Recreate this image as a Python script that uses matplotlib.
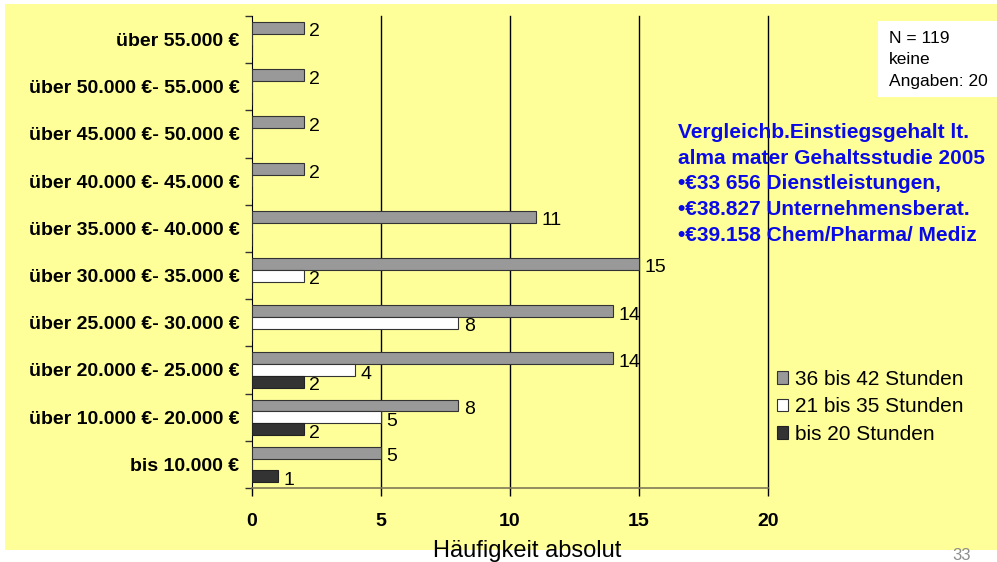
import numpy as np
import matplotlib
matplotlib.use("Agg")
from matplotlib import pyplot as plt
from matplotlib.patches import Rectangle

plt.rcParams['font.family'] = ['Liberation Sans', 'DejaVu Sans']

categories = ["bis 10.000 €", "über 10.000 €- 20.000 €", "über 20.000 €- 25.000 €",
              "über 25.000 €- 30.000 €", "über 30.000 €- 35.000 €", "über 35.000 €- 40.000 €",
              "über 40.000 €- 45.000 €", "über 45.000 €- 50.000 €", "über 50.000 €- 55.000 €",
              "über 55.000 €"]
h36_42 = [5, 8, 14, 14, 15, 11, 2, 2, 2, 2]
h21_35 = [0, 5, 4, 8, 2, 0, 0, 0, 0, 0]
h_bis20 = [1, 2, 2, 0, 0, 0, 0, 0, 0, 0]
series_names = ["36 bis 42 Stunden", "21 bis 35 Stunden", "bis 20 Stunden"]
xticks = [0, 5, 10, 15, 20]

fig = plt.figure(figsize=(9.97, 5.62), dpi=100)
fig.patch.set_facecolor("white")
# yellow slide background
fig.add_artist(Rectangle((5 / 997, 12 / 562), 992 / 997, 546 / 562,
                         transform=fig.transFigure, facecolor="#FFFF99",
                         edgecolor="none", zorder=-10))

ax = fig.add_axes([252 / 997, 74 / 562, 516 / 997, 472 / 562])
ax.set_facecolor("none")

y = np.arange(len(categories))
w = 0.25
ax.barh(y + w, h36_42, height=w, color="#999999", edgecolor="#333333", linewidth=0.8,
        label=series_names[0], zorder=3)
ax.barh(y, h21_35, height=w, color="white", edgecolor="#333333", linewidth=0.8,
        label=series_names[1], zorder=3)
ax.barh(y - w, h_bis20, height=w, color="#333333", edgecolor="#222222", linewidth=0.8,
        label=series_names[2], zorder=3)

for off, vals in [(w, h36_42), (0, h21_35), (-w, h_bis20)]:
    for yi, v in zip(y, vals):
        if v > 0:
            ax.annotate(str(v), (v, yi + off), xytext=(4, -3), textcoords="offset points",
                        va="center", ha="left", fontsize=14, zorder=4)

ax.set_xlim(0, 20)
ax.set_ylim(-0.5, len(categories) - 0.5)
ax.set_xticks(xticks)
ax.set_xticklabels([str(t) for t in xticks], fontsize=14, fontweight="bold")
ax.tick_params(axis="x", direction="out", length=6, width=1, pad=12, color="black")
ax.set_yticks(y)
ax.set_yticklabels(categories, fontsize=14, fontweight="bold")
ax.tick_params(axis="y", which="major", length=0, pad=9)
ax.set_yticks(np.arange(-0.5, len(categories)), minor=True)
ax.tick_params(axis="y", which="minor", length=5, width=1, color="#333333")

for gx in xticks[1:]:
    ax.axvline(gx, color="black", linewidth=1, zorder=1, clip_on=False)
for s in ["top", "right"]:
    ax.spines[s].set_visible(False)
ax.spines["left"].set_color("black")
ax.spines["bottom"].set_color("#807a5a")
ax.spines["bottom"].set_linewidth(1.2)

ax.legend(loc="upper left", bbox_to_anchor=(777 / 997, (562 - 370) / 562),
          bbox_transform=fig.transFigure, frameon=False, fontsize=15,
          handlelength=0.55, handleheight=0.55, handletextpad=0.3,
          labelspacing=0.4, borderaxespad=0, borderpad=0)

fig.text(527 / 997, 11 / 562, "Häufigkeit absolut", ha="center", va="center", fontsize=17)
fig.text(962 / 997, 6 / 562, "33", ha="center", va="center", fontsize=12, color="#8c8c8c")

fig.add_artist(Rectangle((878 / 997, (562 - 97) / 562), 119 / 997, 76 / 562,
                         transform=fig.transFigure, facecolor="white",
                         edgecolor="none", zorder=1))
fig.text(889 / 997, (562 - 60) / 562, "N = 119\nkeine\nAngaben: 20", ha="left", va="center",
         fontsize=12.5, linespacing=1.55, zorder=2)

blue_text = ("Vergleichb.Einstiegsgehalt lt.\nalma mater Gehaltsstudie 2005\n"
             "•€33 656 Dienstleistungen,\n•€38.827 Unternehmensberat.\n•€39.158 Chem/Pharma/ Mediz")
fig.text(678 / 997, (562 - 184) / 562, blue_text, ha="left", va="center", fontsize=15,
         fontweight="bold", color="#0a0ae6", linespacing=1.45)

fig.savefig("out.png", dpi=100, facecolor=fig.get_facecolor())
